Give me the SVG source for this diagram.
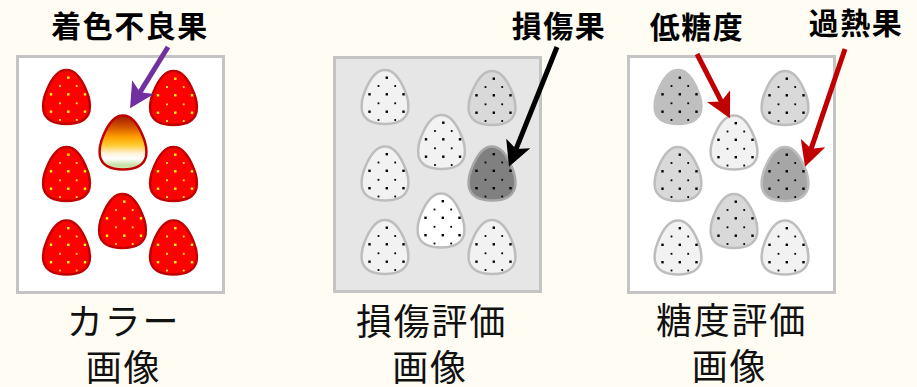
<svg xmlns="http://www.w3.org/2000/svg" xmlns:xlink="http://www.w3.org/1999/xlink" width="917" height="387" viewBox="0 0 917 387">
  <style>
    .panel { stroke: #c4c4c4; stroke-width: 3; }
    .p-white { fill: #ffffff; }
    .p-gray { fill: #e6e6e6; }
    .berry-red { fill: #ff0000; stroke: #c00000; stroke-width: 2.5; }
    .berry-off { fill: url(#offColor); stroke: #c00000; stroke-width: 2.5; }
    .g { stroke: #bdbdbd; stroke-width: 2.5; }
    .g1 { fill: #f2f2f2; }
    .g2 { fill: #d9d9d9; }
    .g3 { fill: #bfbfbf; }
    .g4 { fill: #a6a6a6; }
    .g5 { fill: #808080; stroke: #a6a6a6; }
    .g0 { fill: #ffffff; }
    .seed-y { fill: #ffff00; }
    .seed-k { fill: #000000; }
    .head { font-family: "Noto Sans CJK JP", "Noto Sans CJK SC", sans-serif; font-weight: bold; font-size: 30px; fill: #000; text-anchor: middle; letter-spacing: 1.5px; }
    .cap { font-family: "Noto Sans CJK JP", "Noto Sans CJK SC", sans-serif; font-size: 36px; fill: #111; text-anchor: middle; letter-spacing: 1.8px; }
    .shaft { fill: none; stroke-width: 5; }
  </style>
  <defs>
    <!-- egg-shaped fruit outline centred on (0,0) -->
    <path id="berry" d="M 0,-27 C 9,-27 16,-16 20,-6 C 23,1 24,8 23,14 C 21,22 13,27 0,27 C -13,27 -21,22 -23,14 C -24,8 -23,1 -20,-6 C -16,-16 -9,-27 0,-27 Z"/>
    <!-- seed dots, colour taken from the using element -->
    <g id="seeds">
      <rect x="0.6" y="-20.5" width="2.4" height="2.4"/>
      <rect x="-16.7" y="-3.9" width="2.4" height="2.4"/>
      <rect x="0.6" y="-3.9" width="2.4" height="2.4"/>
      <rect x="17.3" y="-3.9" width="2.4" height="2.4"/>
      <rect x="-16.7" y="13.5" width="2.4" height="2.4"/>
      <rect x="0.6" y="13.5" width="2.4" height="2.4"/>
      <rect x="17.3" y="13.5" width="2.4" height="2.4"/>
      <rect x="-7.4" y="-11.9" width="1.8" height="1.8"/>
      <rect x="9.3" y="-11.9" width="1.8" height="1.8"/>
      <rect x="-7.4" y="5.4" width="1.8" height="1.8"/>
      <rect x="9.3" y="5.4" width="1.8" height="1.8"/>
      <rect x="-7.4" y="22.1" width="1.8" height="1.8"/>
      <rect x="9.3" y="22.1" width="1.8" height="1.8"/>
    </g>
    <linearGradient id="offColor" x1="0" y1="0" x2="0" y2="1">
      <stop offset="0" stop-color="#a01800"/>
      <stop offset="0.2" stop-color="#d05000"/>
      <stop offset="0.4" stop-color="#ffa000"/>
      <stop offset="0.55" stop-color="#ffcc33"/>
      <stop offset="0.7" stop-color="#fff3d8"/>
      <stop offset="0.8" stop-color="#ffffff"/>
      <stop offset="0.92" stop-color="#c5e0a5"/>
      <stop offset="1" stop-color="#d8ecc0"/>
    </linearGradient>
    <marker id="headPurple" viewBox="0 0 25 26" refX="8" refY="13" markerWidth="25" markerHeight="26" markerUnits="userSpaceOnUse" orient="auto">
      <path d="M0,0 L25,13 L0,26 L6,13 Z" fill="#7030a0"/>
    </marker>
    <marker id="headBlack" viewBox="0 0 25 26" refX="8" refY="13" markerWidth="25" markerHeight="26" markerUnits="userSpaceOnUse" orient="auto">
      <path d="M0,0 L25,13 L0,26 L6,13 Z" fill="#000000"/>
    </marker>
    <marker id="headRed" viewBox="0 0 25 26" refX="8" refY="13" markerWidth="25" markerHeight="26" markerUnits="userSpaceOnUse" orient="auto">
      <path d="M0,0 L25,13 L0,26 L6,13 Z" fill="#c00000"/>
    </marker>
  </defs>

  <rect width="917" height="387" fill="#fffcf3"/>

  <!-- panels -->
  <rect id="panel-color" class="panel p-white" x="17.5" y="56.5" width="206" height="236"/>
  <rect id="panel-damage" class="panel p-gray" x="334.5" y="57.5" width="206" height="234"/>
  <rect id="panel-sugar" class="panel p-white" x="628.5" y="56.5" width="206" height="236"/>

  <!-- colour image -->
  <g id="c-tl" transform="translate(66.5,97)"><use href="#berry" class="berry-red"/><use href="#seeds" class="seed-y"/></g>
  <g id="c-tr" transform="translate(173.5,98)"><use href="#berry" class="berry-red"/><use href="#seeds" class="seed-y"/></g>
  <g id="c-mid" transform="translate(123,142.5)"><use href="#berry" class="berry-off"/></g>
  <g id="c-ml" transform="translate(66.5,174)"><use href="#berry" class="berry-red"/><use href="#seeds" class="seed-y"/></g>
  <g id="c-mr" transform="translate(173.5,174)"><use href="#berry" class="berry-red"/><use href="#seeds" class="seed-y"/></g>
  <g id="c-cb" transform="translate(122.5,221)"><use href="#berry" class="berry-red"/><use href="#seeds" class="seed-y"/></g>
  <g id="c-bl" transform="translate(66.5,247.5)"><use href="#berry" class="berry-red"/><use href="#seeds" class="seed-y"/></g>
  <g id="c-br" transform="translate(173.5,247.5)"><use href="#berry" class="berry-red"/><use href="#seeds" class="seed-y"/></g>

  <!-- damage evaluation image -->
  <g id="d-tl" transform="translate(385,97)"><use href="#berry" class="g g1"/><use href="#seeds" class="seed-k"/></g>
  <g id="d-tr" transform="translate(492,98)"><use href="#berry" class="g g2"/><use href="#seeds" class="seed-k"/></g>
  <g id="d-mid" transform="translate(441.5,142)"><use href="#berry" class="g g1"/><use href="#seeds" class="seed-k"/></g>
  <g id="d-ml" transform="translate(385,173.5)"><use href="#berry" class="g g1"/><use href="#seeds" class="seed-k"/></g>
  <g id="d-mr" transform="translate(492,173.5)"><use href="#berry" class="g g5"/><use href="#seeds" class="seed-k"/></g>
  <g id="d-cb" transform="translate(441,220.5)"><use href="#berry" class="g g0"/><use href="#seeds" class="seed-k"/></g>
  <g id="d-bl" transform="translate(385,247)"><use href="#berry" class="g g1"/><use href="#seeds" class="seed-k"/></g>
  <g id="d-br" transform="translate(492,247)"><use href="#berry" class="g g1"/><use href="#seeds" class="seed-k"/></g>

  <!-- sugar content evaluation image -->
  <g id="s-tl" transform="translate(678,97)"><use href="#berry" class="g g3" style="stroke:#bfbfbf"/><use href="#seeds" class="seed-k"/></g>
  <g id="s-tr" transform="translate(785,98)"><use href="#berry" class="g g2"/><use href="#seeds" class="seed-k"/></g>
  <g id="s-mid" transform="translate(734,142.5)"><use href="#berry" class="g g1"/><use href="#seeds" class="seed-k"/></g>
  <g id="s-ml" transform="translate(678,174)"><use href="#berry" class="g g2"/><use href="#seeds" class="seed-k"/></g>
  <g id="s-mr" transform="translate(785,174)"><use href="#berry" class="g g4"/><use href="#seeds" class="seed-k"/></g>
  <g id="s-cb" transform="translate(734,221)"><use href="#berry" class="g g2"/><use href="#seeds" class="seed-k"/></g>
  <g id="s-bl" transform="translate(678,247.5)"><use href="#berry" class="g g1"/><use href="#seeds" class="seed-k"/></g>
  <g id="s-br" transform="translate(785,247.5)"><use href="#berry" class="g g1"/><use href="#seeds" class="seed-k"/></g>

  <!-- pointer arrows -->
  <g id="connectors">
    <line class="shaft" x1="168" y1="47" x2="139" y2="93.9" stroke="#7030a0" marker-end="url(#headPurple)"/>
    <line class="shaft" x1="557" y1="47" x2="515.3" y2="150.9" stroke="#000000" marker-end="url(#headBlack)"/>
    <line class="shaft" x1="697" y1="54" x2="722.2" y2="103.2" stroke="#c00000" marker-end="url(#headRed)"/>
    <line class="shaft" x1="845" y1="49" x2="810.5" y2="150.6" stroke="#c00000" marker-end="url(#headRed)"/>
  </g>

  <!-- labels -->
  <g id="labels">
    <text class="head" x="130" y="37">着色不良果</text>
    <text class="head" x="559" y="37">損傷果</text>
    <text class="head" x="697" y="38">低糖度</text>
    <text class="head" x="856" y="34">過熱果</text>
    <text class="cap" x="123.5" y="335">カラー<tspan x="123.5" y="381">画像</tspan></text>
    <text class="cap" x="431.5" y="335">損傷評価<tspan x="430" y="381">画像</tspan></text>
    <text class="cap" x="731.5" y="334">糖度評価<tspan x="729.5" y="380">画像</tspan></text>
  </g>
</svg>
